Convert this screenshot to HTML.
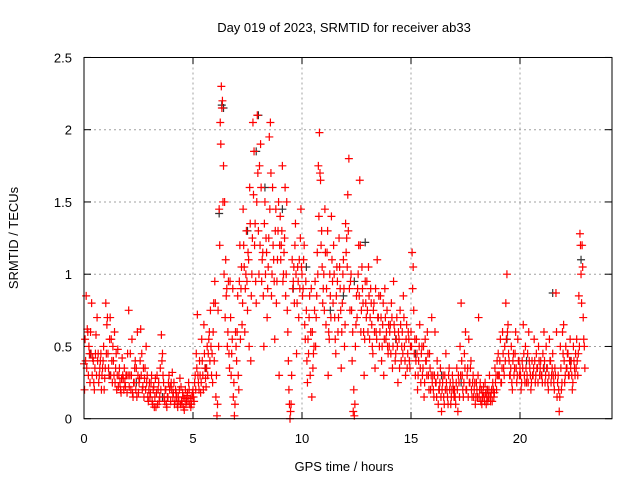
<!DOCTYPE html>
<html><head><meta charset="utf-8"><style>
body{margin:0;background:#fff;}
svg{display:block;font-family:"Liberation Sans",sans-serif;}
</style></head><body>
<svg id="chart" width="640" height="480">
<rect width="640" height="480" fill="#fff"/>
<text x="344" y="32" font-size="13" text-anchor="middle">Day 019 of 2023, SRMTID for receiver ab33</text>
<text x="344" y="471" font-size="13" text-anchor="middle">GPS time / hours</text>
<text transform="translate(18,238) rotate(-90)" font-size="13" text-anchor="middle">SRMTID / TECUs</text>
<g id="grid"></g><g id="ticks"></g><g id="marks"></g>
<rect x="84" y="57.5" width="528" height="361.2" fill="none" stroke="#000" stroke-width="1"/>
</svg>
<script>
const xTicks=[0,5,10,15,20];
const yTicks=[0,0.5,1,1.5,2,2.5];
const yTickLabels=["0","0.5","1","1.5","2","2.5"];
const redHours=[0,1,2,3,4,5,6,7,8,9,10,11,12,13,14,15,16,17,18,19,20,21,22];
const redV0=[.38,.55,.85,.62,.3,.45,.6,.8,.42,.25,.35,.58,.7,.45,.3,.4,.2,.35,.5,.28];
const redV1=[.8,.65,.45,.3,.7,.55,.25,.4,.6,.35,.2,.48,.3,.25,.18,.42,.28,.35,.22,.3];
const redV2=[.45,.75,.3,.2,.55,.15,.25,.4,.35,.6,.18,.28,.62,.45,.22,.15,.35,.5,.3,.12];
const redV3=[.25,.18,.3,.1,.22,.15,.08,.3,.2,.12,.35,.58,.45,.25,.12,.2,.08,.15,.3,.22];
const redV4=[.25,.32,.18,.1,.2,.15,.08,.12,.28,.22,.1,.15,.06,.2,.12,.18,.25,.1,.08,.15];
const redV5=[.2,.12,.3,.45,.72,.25,.4,.18,.55,.3,.65,.35,.22,.5,.45,.6,.75,.3,.25,.8];
const redV6=[.95,.15,.02,.75,1.45,2.05,2.3,2.2,1.75,1.5,1.1,.9,.6,.45,.95,.3,.55,.15,.02,.6];
const redV7=[.4,.85,.2,1.2,.9,.65,1.45,1.05,.9,1.3,.75,1.1,1.6,.4,1.0,2.05,1.85,1.35,.8,2.1];
const redV8=[1.3,1.75,1.9,.95,1.15,.5,1.5,1.25,.7,1.05,1.95,2.05,.85,1.6,1.1,.55,1.45,.95,1.3,.3];
const redV9=[1.4,1.2,1.75,1.0,1.25,.85,1.5,.6,.2,.0,.1,1.1,.95,.8,1.35,.45,1.05,.7,.9,1.45];
const redV10=[1.0,.9,1.2,.55,.75,.25,.45,.85,.6,.15,.35,.5,.95,.7,1.15,1.75,1.98,1.65,1.3,.8];
const redV11=[1.0,1.45,.65,1.15,.3,.55,.85,1.4,.95,1.2,.7,.45,1.05,.6,1.25,.9,.35,.8,1.1,.5];
const redV12=[1.35,1.25,1.55,1.8,.75,1.0,.4,.05,.02,.5,.85,.9,1.2,1.65,.6,1.05,.8,.3,.95,.7];
const redV13=[.75,1.05,.55,.9,.65,.45,.8,.35,.6,1.1,.7,.5,.85,.4,.65,.3,.9,.55,.75,.45];
const redV14=[.5,.65,.8,.35,.95,.6,.45,.7,.25,.55,.75,.4,.6,.85,.5,.3,.65,.45,.55,.35];
const redV15=[.6,1.15,1.05,.45,.3,.55,.2,.4,.65,.25,.5,.35,.15,.55,.4,.6,.3,.45,.2,.7];
const redV16=[.3,.15,.6,.25,.4,.1,.2,.35,.05,.25,.15,.3,.45,.2,.1,.35,.25,.15,.3,.2];
const redV17=[.2,.1,.35,.05,.25,.5,.8,.3,.15,.45,.6,.2,.35,.55,.25,.4,.15,.3,.2,.1];
const redV18=[.25,.15,.7,.2,.12,.1,.18,.15,.25,.1,.2,.15,.3,.12,.2,.25,.15,.35,.3,.4];
const redV19=[.45,.3,.55,.25,.6,.35,.5,.8,1.0,.65,.4,.3,.5,.2,.45,.35,.6,.25,.55,.4];
const redV20=[.35,.2,.4,.65,.3,.5,.25,.45,.6,.35,.2,.4,.3,.55,.25,.45,.35,.5,.3,.4];
const redV21=[.3,.45,.6,.25,.5,.35,.2,.55,.4,.3,.45,.25,.35,.87,.15,.3,.05,.5,.2,.6];
const redV22=[.65,.25,.5,.35,.45,.3,.55,.4,.2,.5,.35,.45,.55,.3,.85,1.28,1.0,1.2,.7,.5];
const redW0=[.2,.4,.35,.6,.5,.25,.45,.3,.4,.2,.45,.3,.4,.25,.35,.45,.3,.4,.2,.35];
const redW1=[.45,.7,.35,.55,.3,.4,.5,.3,.25,.45,.3,.22,.35,.2,.28,.3,.2,.25,.3,.18];
const redW2=[.3,.22,.45,.3,.18,.25,.35,.2,.15,.3,.25,.4,.3,.2,.35,.28,.2,.25,.15,.2];
const redW3=[.15,.25,.12,.2,.08,.28,.18,.1,.25,.15,.2,.4,.3,.15,.2,.1,.15,.25,.2,.12];
const redW4=[.2,.15,.25,.12,.18,.1,.15,.2,.1,.12,.18,.08,.14,.1,.16,.12,.2,.14,.1,.18];
const redW5=[.15,.25,.2,.35,.3,.2,.3,.25,.4,.2,.45,.28,.35,.3,.55,.4,.5,.45,.6,.4];
const redW6=[.8,.3,.1,.5,1.2,1.9,2.15,1.5,1.0,.7,.85,.5,.95,.35,.7,.45,.9,.25,.1,.5];
const redW7=[.6,.3,.95,.55,1.05,.8,1.2,.6,1.0,.95,1.15,.5,1.35,.85,1.25,1.55,1.2,.95,1.5,1.7];
const redW8=[1.0,1.2,1.6,1.1,.85,1.35,1.0,1.15,.9,1.25,1.45,1.7,1.0,1.2,.95,1.3,.8,1.1,1.5,1.2];
const redW9=[1.1,1.3,.95,1.15,1.6,1.0,.75,.4,.1,.05,.3,.9,1.05,1.2,1.0,.8,.95,1.1,1.25,1.05];
const redW10=[.85,1.1,.65,.95,.4,.55,.7,.3,.9,.6,.45,.75,.5,.85,1.0,1.4,1.7,1.2,1.05,.9];
const redW11=[.75,1.15,.9,1.3,.6,1.0,.7,1.1,.8,1.0,.55,.85,.95,.7,1.05,.75,.6,1.0,.9,.65];
const redW12=[1.15,1.05,1.3,.9,.95,.75,.6,.2,.1,.65,.7,1.0,.85,1.2,.75,.9,.6,.55,.8,.95];
const redW13=[.6,.85,.7,.8,.5,.75,.6,.9,.55,.7,.85,.6,.7,.5,.8,.55,.7,.6,.5,.65];
const redW14=[.6,.45,.7,.5,.65,.4,.55,.5,.6,.35,.65,.5,.45,.7,.4,.55,.35,.6,.4,.5];
const redW15=[.5,.9,.75,.55,.4,.45,.3,.5,.35,.45,.3,.5,.25,.4,.3,.45,.2,.35,.3,.25];
const redW16=[.2,.3,.25,.15,.3,.2,.25,.15,.2,.3,.1,.2,.25,.15,.3,.2,.1,.2,.25,.15];
const redW17=[.15,.25,.2,.3,.15,.3,.4,.2,.25,.35,.2,.3,.15,.25,.35,.2,.25,.15,.25,.15];
const redW18=[.2,.3,.15,.25,.2,.15,.22,.12,.18,.15,.12,.2,.15,.18,.12,.2,.18,.25,.2,.3];
const redW19=[.3,.4,.25,.35,.45,.3,.4,.55,.6,.45,.3,.35,.25,.4,.3,.45,.35,.3,.4,.3];
const redW20=[.3,.25,.35,.45,.25,.35,.3,.25,.4,.3,.25,.3,.35,.4,.3,.35,.25,.4,.35,.3];
const redW21=[.25,.35,.4,.3,.35,.25,.3,.4,.25,.35,.3,.2,.3,.6,.25,.2,.15,.35,.25,.45];
const redW22=[.4,.3,.35,.45,.3,.4,.35,.3,.25,.4,.3,.35,.4,.45,.5,1.2,.8,1.05,.55,.35];
const redVals=[redV0,redV1,redV2,redV3,redV4,redV5,redV6,redV7,redV8,redV9,redV10,redV11,redV12,redV13,redV14,redV15,redV16,redV17,redV18,redV19,redV20,redV21,redV22];
const redVals2=[redW0,redW1,redW2,redW3,redW4,redW5,redW6,redW7,redW8,redW9,redW10,redW11,redW12,redW13,redW14,redW15,redW16,redW17,redW18,redW19,redW20,redW21,redW22];
const blackT=[0.3,1.2,2.4,3.6,4.7,5.6,6.2,6.32,6.4,7.5,7.9,8.0,8.3,9.1,9.6,10.2,11.3,11.9,12.4,12.9,13.5,14.3,15.2,16.4,17.3,18.5,19.4,20.3,21.1,21.5,22.3,22.8];
const blackV=[.45,.3,.25,.15,.12,.35,1.42,2.17,2.15,1.3,1.85,2.1,1.6,1.45,.9,1.05,.75,.85,.95,1.22,.7,.55,.45,.3,.25,.2,.55,.4,.35,.87,.4,1.1];

const X0=84,XS=21.8,Y0=418.7,YS=144.5;
function xs(h){return X0+h*XS;}
function ys(v){return Y0-v*YS;}
const NS="http://www.w3.org/2000/svg";
const grid=document.getElementById('grid'),ticks=document.getElementById('ticks'),marks=document.getElementById('marks');
function mk(tag,attrs,parent){const e=document.createElementNS(NS,tag);for(const k in attrs)e.setAttribute(k,attrs[k]);parent.appendChild(e);return e;}
xTicks.forEach(t=>{
  const x=xs(t);
  if(t>0){const g=mk('line',{x1:x,x2:x,y1:57.5,y2:418.7,stroke:'#a0a0a0','stroke-dasharray':'2,3'},grid);
  
  }
  mk('line',{x1:x,x2:x,y1:418.7,y2:412,stroke:'#000'},ticks);
  mk('line',{x1:x,x2:x,y1:57.5,y2:64,stroke:'#000'},ticks);
  const l=mk('text',{x:x,y:443,'font-size':13,'text-anchor':'middle'},ticks);l.textContent=t;
  
  
});
yTicks.forEach((t,i)=>{
  const y=ys(t);
  if(t>0&&t<2.5){const g=mk('line',{x1:84,x2:612,y1:y,y2:y,stroke:'#a0a0a0','stroke-dasharray':'2,3'},grid);
  
  }
  mk('line',{x1:84,x2:91,y1:y,y2:y,stroke:'#000'},ticks);
  mk('line',{x1:605,x2:612,y1:y,y2:y,stroke:'#000'},ticks);
  const l=mk('text',{x:72,y:y+5,'font-size':13,'text-anchor':'end'},ticks);l.textContent=yTickLabels[i];
  
  
});
function plus(h,v,col,name){
  const x=xs(h),y=ys(v);
  const p=mk('path',{d:`M${x-4},${y}H${x+4}M${x},${y-4}V${y+4}`,stroke:col,'stroke-width':1.2,fill:'none'},marks);
  
  
}
blackT.forEach((t,i)=>plus(t,blackV[i],'#333','black-point'));
redHours.forEach((h,hi)=>{redVals[hi].forEach((v,k)=>plus(h+k*0.05,v,'#f00','red-point'));});
redHours.forEach((h,hi)=>{redVals2[hi].forEach((v,k)=>plus(h+0.025+k*0.05,v,'#f00','red-point'));});
</script>
</body></html>
